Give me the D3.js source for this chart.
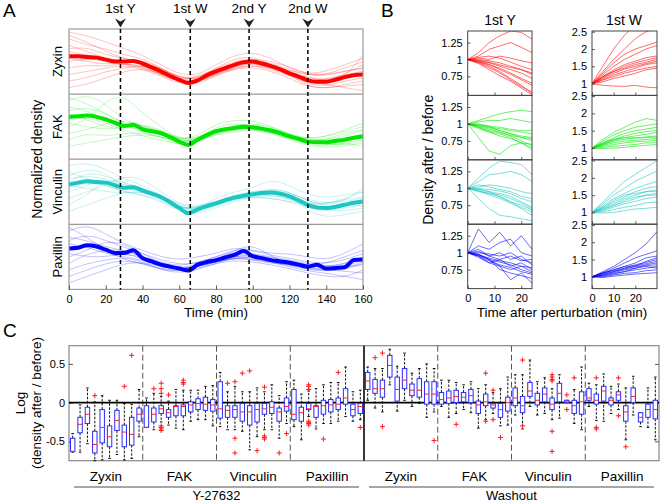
<!DOCTYPE html>
<html><head><meta charset="utf-8">
<script src="https://cdn.jsdelivr.net/npm/d3@7"></script>
<style>body{margin:0;background:#fff}svg{display:block}text{font-family:"Liberation Sans",Arial,Helvetica,sans-serif;fill:#000}</style>
</head><body><svg id="c" width="660" height="503"></svg>
<script>
// ---------------- DATA ----------------
const proteins = ["Zyxin","FAK","Vinculin","Paxillin"];
const colors = ["#ff0000","#00e600","#1cc6c2","#0000ff"];
const eventTimes = [28,66,98,130];
const eventLabels = ["1st Y","1st W","2nd Y","2nd W"];
const timeTicksA = [0,20,40,60,80,100,120,140,160];

// Panel A: mean traces (normalized, 0 = panel bottom, 1 = panel top)
const meanTime = [0,5,10,15,20,25,30,35,40,45,50,55,60,65,70,75,80,85,90,95,100,105,110,115,120,125,130,135,140,145,150,155,160];
const meanZyxin = [0.58,0.58,0.57,0.56,0.53,0.50,0.50,0.51,0.47,0.41,0.35,0.28,0.22,0.17,0.21,0.29,0.35,0.40,0.45,0.49,0.50,0.47,0.43,0.38,0.32,0.27,0.21,0.19,0.19,0.22,0.26,0.29,0.30];
const meanFAK = [0.65,0.66,0.67,0.65,0.61,0.56,0.51,0.53,0.46,0.43,0.40,0.34,0.27,0.22,0.30,0.37,0.43,0.46,0.48,0.50,0.49,0.47,0.44,0.40,0.35,0.31,0.27,0.26,0.26,0.28,0.30,0.33,0.35];
const meanVinculin = [0.61,0.64,0.66,0.65,0.64,0.60,0.56,0.57,0.52,0.47,0.42,0.34,0.25,0.17,0.23,0.28,0.32,0.37,0.41,0.44,0.46,0.48,0.49,0.47,0.43,0.37,0.30,0.26,0.25,0.27,0.30,0.33,0.35];
const meanPaxillin = [0.63,0.64,0.68,0.66,0.61,0.56,0.56,0.60,0.48,0.43,0.38,0.35,0.32,0.29,0.38,0.42,0.45,0.49,0.53,0.59,0.51,0.48,0.45,0.43,0.41,0.38,0.35,0.38,0.32,0.33,0.34,0.45,0.46];

// Panel A: individual cell traces, sampled every 10 min
const traceTime = [0,10,20,30,40,50,60,70,80,90,100,110,120,130,140,150,160];
const tracesZyxin = [
 [0.95,0.9,0.8,0.7,0.6,0.45,0.3,0.28,0.45,0.6,0.65,0.55,0.4,0.3,0.35,0.45,0.55],
 [0.85,0.75,0.7,0.6,0.55,0.4,0.25,0.25,0.4,0.5,0.55,0.5,0.42,0.3,0.3,0.4,0.5],
 [0.7,0.72,0.6,0.55,0.5,0.38,0.22,0.2,0.35,0.45,0.5,0.45,0.35,0.2,0.2,0.25,0.3],
 [0.5,0.55,0.5,0.45,0.45,0.3,0.2,0.18,0.3,0.42,0.48,0.4,0.3,0.15,0.12,0.2,0.25],
 [0.4,0.45,0.42,0.48,0.42,0.3,0.18,0.15,0.28,0.4,0.45,0.38,0.28,0.18,0.15,0.1,0.05],
 [0.3,0.35,0.4,0.45,0.38,0.28,0.15,0.18,0.32,0.42,0.5,0.42,0.3,0.12,0.08,0.15,0.2],
 [0.65,0.6,0.55,0.5,0.52,0.4,0.25,0.22,0.38,0.48,0.52,0.48,0.38,0.28,0.3,0.35,0.4],
 [0.2,0.25,0.35,0.4,0.45,0.35,0.2,0.2,0.32,0.4,0.45,0.4,0.32,0.25,0.22,0.3,0.35],
 [0.75,0.65,0.55,0.45,0.4,0.32,0.22,0.25,0.4,0.55,0.58,0.45,0.3,0.2,0.22,0.3,0.45],
 [0.55,0.5,0.45,0.5,0.48,0.4,0.25,0.22,0.35,0.45,0.52,0.45,0.35,0.25,0.2,0.25,0.6],
 [0.9,0.8,0.65,0.55,0.45,0.33,0.2,0.18,0.3,0.38,0.42,0.35,0.25,0.1,0.1,0.12,0.15],
 [0.1,0.15,0.25,0.35,0.4,0.3,0.18,0.2,0.36,0.46,0.5,0.44,0.36,0.3,0.28,0.35,0.4]
];
const tracesFAK = [
 [0.9,1.0,0.85,0.6,0.5,0.45,0.3,0.35,0.55,0.6,0.6,0.5,0.4,0.3,0.35,0.45,0.55],
 [0.5,0.6,0.9,1.0,0.7,0.5,0.3,0.32,0.5,0.55,0.52,0.48,0.38,0.3,0.28,0.32,0.38],
 [0.8,0.75,0.6,0.5,0.45,0.42,0.3,0.32,0.45,0.5,0.5,0.42,0.35,0.25,0.25,0.3,0.4],
 [0.3,0.4,0.35,0.4,0.4,0.35,0.2,0.25,0.4,0.45,0.48,0.45,0.35,0.3,0.3,0.35,0.45],
 [0.7,0.6,0.5,0.45,0.55,0.45,0.3,0.3,0.4,0.45,0.5,0.4,0.3,0.2,0.18,0.2,0.25],
 [0.6,0.65,0.55,0.45,0.35,0.3,0.22,0.28,0.42,0.5,0.45,0.4,0.32,0.22,0.2,0.25,0.3],
 [0.2,0.25,0.3,0.35,0.38,0.35,0.25,0.28,0.38,0.42,0.45,0.42,0.36,0.32,0.35,0.42,0.5],
 [0.75,0.8,0.7,0.55,0.45,0.38,0.25,0.3,0.45,0.52,0.55,0.5,0.38,0.28,0.22,0.22,0.28],
 [0.55,0.5,0.45,0.5,0.5,0.42,0.28,0.3,0.42,0.48,0.5,0.45,0.35,0.25,0.25,0.3,0.32],
 [0.95,0.85,0.7,0.55,0.4,0.35,0.25,0.3,0.45,0.48,0.46,0.42,0.32,0.28,0.3,0.4,0.45],
 [0.4,0.45,0.55,0.6,0.52,0.42,0.28,0.28,0.4,0.46,0.5,0.46,0.38,0.28,0.22,0.25,0.2]
];
const tracesVinculin = [
 [0.9,0.95,0.85,0.7,0.6,0.45,0.25,0.25,0.4,0.5,0.55,0.7,0.6,0.45,0.4,0.45,0.5],
 [0.4,0.5,0.6,0.75,0.7,0.5,0.3,0.28,0.35,0.45,0.5,0.55,0.5,0.35,0.3,0.4,0.5],
 [0.7,0.75,0.7,0.6,0.55,0.45,0.28,0.2,0.3,0.4,0.45,0.45,0.4,0.25,0.2,0.25,0.3],
 [0.2,0.3,0.4,0.5,0.5,0.4,0.22,0.2,0.3,0.4,0.45,0.5,0.45,0.3,0.22,0.2,0.25],
 [0.8,0.7,0.6,0.5,0.45,0.35,0.2,0.18,0.28,0.38,0.42,0.45,0.4,0.28,0.25,0.3,0.38],
 [0.5,0.6,0.7,0.55,0.5,0.42,0.25,0.22,0.32,0.4,0.48,0.52,0.45,0.2,0.1,0.15,0.2],
 [0.6,0.55,0.5,0.48,0.5,0.4,0.25,0.25,0.35,0.42,0.45,0.48,0.42,0.32,0.3,0.35,0.4],
 [0.3,0.45,0.7,0.65,0.55,0.45,0.3,0.25,0.32,0.4,0.42,0.4,0.35,0.3,0.32,0.38,0.42],
 [0.65,0.8,0.75,0.62,0.55,0.42,0.25,0.22,0.3,0.38,0.46,0.55,0.5,0.35,0.28,0.3,0.28],
 [0.55,0.65,0.6,0.5,0.45,0.38,0.2,0.15,0.25,0.35,0.42,0.4,0.35,0.25,0.2,0.28,0.35],
 [0.75,0.85,0.8,0.55,0.5,0.4,0.22,0.25,0.35,0.45,0.5,0.52,0.48,0.38,0.32,0.35,0.55]
];
const tracesPaxillin = [
 [0.9,1.0,0.85,0.7,0.6,0.5,0.45,0.5,0.55,0.65,0.6,0.55,0.55,0.5,0.45,0.55,0.7],
 [0.5,0.6,0.75,0.7,0.55,0.4,0.3,0.35,0.45,0.6,0.7,0.5,0.4,0.35,0.4,0.5,0.6],
 [0.7,0.65,0.55,0.5,0.45,0.35,0.3,0.35,0.42,0.5,0.48,0.42,0.35,0.28,0.25,0.2,0.15],
 [0.3,0.4,0.45,0.5,0.42,0.3,0.25,0.3,0.4,0.5,0.45,0.4,0.38,0.3,0.28,0.35,0.45],
 [0.8,0.75,0.65,0.6,0.5,0.42,0.35,0.42,0.5,0.58,0.55,0.5,0.45,0.4,0.35,0.38,0.5],
 [0.6,0.7,0.6,0.55,0.48,0.35,0.3,0.38,0.45,0.52,0.5,0.42,0.38,0.32,0.28,0.3,0.4],
 [0.2,0.3,0.4,0.45,0.4,0.32,0.28,0.32,0.4,0.45,0.42,0.38,0.32,0.25,0.2,0.18,0.3],
 [0.75,0.85,0.75,0.65,0.55,0.45,0.38,0.4,0.5,0.62,0.6,0.52,0.48,0.42,0.4,0.45,0.55],
 [0.55,0.5,0.5,0.55,0.5,0.4,0.32,0.38,0.48,0.55,0.52,0.45,0.42,0.35,0.3,0.32,0.42],
 [0.95,0.8,0.6,0.45,0.4,0.3,0.28,0.35,0.42,0.48,0.5,0.45,0.4,0.38,0.35,0.4,0.48],
 [0.4,0.55,0.6,0.62,0.5,0.38,0.3,0.36,0.44,0.5,0.55,0.48,0.44,0.38,0.32,0.34,0.38],
 [0.1,0.2,0.3,0.4,0.42,0.35,0.3,0.35,0.42,0.48,0.46,0.42,0.38,0.33,0.3,0.28,0.25]
];

// Panel B: density after / before for 1st Y (left) and 1st W (right)
const bTimeY = [0,4,8,12,16,20,24];
const bTimeW = [0,5,10,15,20,25,30];
const bTicksY = [0.75,1,1.25];
const bTicksW = [1,1.5,2,2.5];
const bTimeTicks = [0,10,20];
const bZyxinY = [
 [1,1.1,1.25,1.35,1.42,1.4,1.3],[1,1.05,1.15,1.2,1.25,1.18,1.1],[1,1.02,1.0,1.05,1.02,0.98,0.95],
 [1,0.98,0.95,0.9,0.85,0.8,0.72],[1,0.97,0.93,0.85,0.78,0.7,0.62],[1,0.96,0.9,0.82,0.72,0.62,0.5],
 [1,0.95,0.88,0.8,0.7,0.6,0.52],[1,0.99,0.96,0.92,0.88,0.85,0.8],[1,0.94,0.85,0.76,0.68,0.58,0.48],
 [1,1.0,0.98,0.95,0.9,0.85,0.78],[1,0.97,0.92,0.87,0.8,0.72,0.65],[1,1.03,1.05,1.02,0.96,0.9,0.85]
];
const bFAKY = [
 [1,1.05,1.1,1.15,1.18,1.2,1.18],[1,1.03,1.05,1.05,1.08,1.05,1.02],[1,0.98,0.95,0.93,0.9,0.88,0.85],
 [1,0.95,0.9,0.87,0.83,0.8,0.78],[1,0.8,0.6,0.55,0.68,0.72,0.7],[1,0.96,0.92,0.88,0.82,0.75,0.68],
 [1,0.97,0.94,0.9,0.86,0.82,0.8],[1,0.93,0.88,0.85,0.8,0.72,0.62],[1,0.99,0.97,0.95,0.92,0.9,0.9],
 [1,0.95,0.88,0.82,0.78,0.72,0.65],[1,1.0,0.96,0.9,0.85,0.8,0.75]
];
const bVinculinY = [
 [1,1.15,1.3,1.4,1.38,1.35,1.2],[1,1.1,1.2,1.22,1.25,1.2,1.1],[1,1.02,1.05,1.03,1.0,0.95,0.92],
 [1,0.85,0.7,0.6,0.58,0.55,0.52],[1,0.98,0.95,0.92,0.88,0.8,0.72],[1,0.95,0.92,0.88,0.8,0.72,0.65],
 [1,1.0,0.98,0.96,0.92,0.85,0.8],[1,0.97,0.9,0.85,0.78,0.7,0.6],[1,1.05,1.02,0.98,0.95,0.88,0.85],
 [1,0.96,0.93,0.9,0.85,0.78,0.7],[1,0.99,0.95,0.87,0.8,0.75,0.68]
];
const bPaxillinY = [
 [1,1.35,1.15,1.3,1.1,1.25,1.05],[1,1.1,1.05,1.15,1.2,1.0,0.95],[1,0.95,0.85,0.9,0.8,0.85,0.75],
 [1,0.98,0.9,0.8,0.6,0.7,0.55],[1,0.97,0.92,0.88,0.85,0.8,0.78],[1,1.02,0.95,0.9,0.95,0.88,0.9],
 [1,0.95,0.88,0.82,0.78,0.72,0.68],[1,0.93,0.85,0.8,0.75,0.8,0.72],[1,1.0,0.98,0.95,1.0,0.9,0.85],
 [1,0.96,0.9,0.86,0.82,0.75,0.7],[1,1.05,0.95,1.0,0.9,0.95,0.82],[1,0.97,0.9,0.75,0.7,0.66,0.62]
];
const bZyxinW = [
 [1,1.5,2.0,2.4,2.7,2.9,3.0],[1,1.35,1.7,2.0,2.3,2.5,2.6],[1,1.3,1.6,1.85,2.0,2.1,2.2],
 [1,1.2,1.4,1.55,1.65,1.75,1.8],[1,1.2,1.35,1.5,1.6,1.68,1.75],[1,1.15,1.3,1.42,1.5,1.58,1.65],
 [1,1.12,1.25,1.35,1.45,1.55,1.6],[1,1.1,1.2,1.3,1.38,1.45,1.5],[1,1.05,1.15,1.22,1.3,1.4,1.45],
 [1,0.95,0.93,0.92,0.95,0.9,0.88],[1,1.25,1.5,1.7,1.85,2.0,2.1],[1,1.18,1.35,1.45,1.55,1.62,1.7]
];
const bFAKW = [
 [1,1.25,1.45,1.6,1.75,1.85,1.8],[1,1.2,1.38,1.5,1.6,1.65,1.7],[1,1.15,1.3,1.42,1.5,1.55,1.6],
 [1,1.12,1.25,1.35,1.42,1.48,1.5],[1,1.1,1.2,1.25,1.3,1.32,1.35],[1,1.08,1.15,1.2,1.22,1.25,1.28],
 [1,1.05,1.1,1.15,1.18,1.2,1.22],[1,1.02,1.05,1.08,1.1,1.15,1.15],[1,0.98,1.0,1.02,1.05,1.08,1.1],
 [1,1.1,1.22,1.3,1.35,1.4,1.45],[1,1.15,1.25,1.3,1.28,1.3,1.32]
];
const bVinculinW = [
 [1,1.3,1.6,1.9,2.1,2.3,2.5],[1,1.25,1.5,1.7,1.9,2.05,2.2],[1,1.2,1.4,1.55,1.7,1.8,1.9],
 [1,1.15,1.3,1.45,1.6,1.7,1.75],[1,1.12,1.25,1.4,1.5,1.6,1.65],[1,1.1,1.2,1.3,1.4,1.5,1.55],
 [1,1.05,1.15,1.25,1.32,1.4,1.45],[1,1.02,1.08,1.15,1.2,1.28,1.3],[1,0.98,1.0,1.05,1.1,1.12,1.15],
 [1,1.15,1.35,1.5,1.55,1.6,1.6],[1,1.08,1.2,1.35,1.45,1.5,1.5]
];
const bPaxillinW = [
 [1,1.15,1.3,1.5,1.7,1.95,2.3],[1,1.12,1.25,1.4,1.55,1.65,1.75],[1,1.1,1.2,1.3,1.4,1.55,1.6],
 [1,1.08,1.15,1.25,1.35,1.42,1.5],[1,1.05,1.12,1.2,1.25,1.35,1.4],[1,1.04,1.1,1.15,1.2,1.25,1.3],
 [1,1.0,1.05,1.1,1.12,1.18,1.2],[1,0.98,1.02,1.05,1.08,1.1,1.12],[1,1.1,1.2,1.3,1.32,1.38,1.45],
 [1,1.06,1.15,1.22,1.3,1.32,1.35],[1,1.02,1.08,1.15,1.25,1.3,1.25],[1,1.12,1.18,1.25,1.3,1.45,1.55]
];

// Panel C: box plots, log(density after / before); 80 boxes, 10 cells per group
const treatments = ["Y-27632","Washout"];
const cTicks = [-0.5,0,0.5];
const boxQ3 = [-0.46,-0.19,-0.06,-0.37,-0.09,-0.30,-0.10,-0.29,-0.19,-0.07, -0.04,-0.07,-0.04,-0.09,-0.04,-0.03,0.01,0.05,0.07,0.04,
 0.27,-0.04,-0.04,-0.01,-0.04,-0.01,-0.01,0.01,-0.07,0.06, 0.17,-0.06,-0.01,-0.04,0.03,0.04,0.06,0.18,-0.02,-0.01,
 0.39,0.30,0.29,0.61,0.33,0.44,0.24,0.31,0.27,0.27, 0.13,0.15,0.16,0.13,0.17,0.02,0.11,-0.01,-0.01,0.07,
 0.19,0.08,0.26,0.12,0.19,0.06,0.25,0.03,0.03,0.14, 0.18,0.11,0.21,0.06,0.14,-0.04,0.19,-0.13,-0.02,0.03];
const boxQ1 = [-0.63,-0.39,-0.27,-0.65,-0.52,-0.57,-0.36,-0.57,-0.55,-0.24, -0.32,-0.25,-0.14,-0.19,-0.17,-0.17,-0.12,-0.09,-0.10,-0.11,
 -0.20,-0.19,-0.19,-0.24,-0.29,-0.25,-0.15,-0.14,-0.24,-0.11, -0.22,-0.24,-0.09,-0.19,-0.15,-0.12,-0.09,-0.02,-0.17,-0.14,
 0.17,0.12,0.07,0.33,0.02,0.18,0.09,0.07,-0.02,-0.02, -0.02,-0.01,0.00,0.01,0.00,-0.14,-0.04,-0.07,-0.19,-0.11,
 -0.04,-0.13,0.08,-0.03,0.01,-0.09,0.01,0.00,-0.14,-0.15, 0.03,-0.02,0.02,-0.03,0.03,-0.24,0.00,-0.25,-0.19,-0.21];
const boxMed = [-0.63,-0.28,-0.15,-0.54,-0.32,-0.44,-0.23,-0.38,-0.41,-0.15, -0.32,-0.15,-0.08,-0.13,-0.05,-0.05,-0.03,-0.01,-0.02,-0.03,
 -0.08,-0.10,-0.09,-0.12,-0.12,-0.09,-0.08,-0.06,-0.12,-0.05, -0.15,-0.13,-0.08,-0.05,-0.04,-0.03,-0.02,0.06,-0.09,-0.05,
 0.28,0.18,0.18,0.48,0.17,0.29,0.16,0.16,0.11,0.11, 0.04,0.06,0.08,0.07,0.09,-0.03,0.01,-0.03,-0.09,0.00,
 0.06,-0.04,0.15,0.03,0.11,-0.02,0.12,0.01,-0.04,0.01, 0.06,0.03,0.15,0.03,0.10,-0.12,0.08,-0.19,-0.09,-0.09];
const boxHi = [-0.40,-0.03,0.19,0.01,0.09,0.03,0.03,-0.01,-0.02,0.17, 0.06,0.12,0.08,0.02,0.17,0.16,0.16,0.16,0.21,0.22,
 0.39,0.14,0.21,0.14,0.14,0.19,0.14,0.23,0.09,0.27, 0.29,0.11,0.15,0.18,0.23,0.26,0.26,0.46,0.14,0.16,
 0.46,0.44,0.44,0.69,0.47,0.64,0.38,0.44,0.50,0.44, 0.29,0.29,0.26,0.23,0.27,0.18,0.23,0.13,0.18,0.33,
 0.36,0.36,0.55,0.27,0.32,0.18,0.36,0.03,0.17,0.46, 0.25,0.23,0.37,0.21,0.24,0.19,0.34,-0.13,0.19,0.33];
const boxLo = [-0.64,-0.64,-0.53,-0.75,-0.74,-0.72,-0.67,-0.74,-0.72,-0.44, -0.32,-0.35,-0.25,-0.29,-0.33,-0.35,-0.24,-0.22,-0.22,-0.30,
 -0.31,-0.35,-0.35,-0.37,-0.61,-0.44,-0.35,-0.35,-0.46,-0.27, -0.31,-0.48,-0.18,-0.34,-0.27,-0.27,-0.24,-0.18,-0.24,-0.22,
 0.03,-0.07,-0.12,0.23,-0.11,0.03,-0.05,-0.01,-0.19,-0.12, -0.05,-0.19,-0.14,-0.09,-0.13,-0.33,-0.22,-0.14,-0.30,-0.29,
 -0.16,-0.34,-0.05,-0.16,-0.14,-0.22,-0.20,0.00,-0.27,-0.35, -0.05,-0.23,-0.24,-0.14,-0.09,-0.48,-0.16,-0.31,-0.32,-0.48];
const outlierBox = [3,7,8,11,12,12,12,12,12,12,12,13,15,15,15,21,22,22,22,23,24,25,26,26,26,26,28,29,
 32,32,32,32,32,32,32,34,36,39,41,42,42,49,52,56,56,57,57,58,61,61,65,65,65,65,65,65,67,67,68,71,71,71,74,74,75];
const outlierVal = [0.09,0.21,0.61,0.18,0.25,0.18,0.12,-0.30,-0.32,-0.34,-0.36,0.10,0.29,0.26,0.24,0.25,0.27,-0.46,-0.65,0.38,0.41,-0.62,0.20,-0.43,-0.45,-0.47,-0.65,-0.40,
 0.23,0.21,0.17,-0.24,-0.26,-0.27,-0.29,-0.47,0.39,-0.32,0.58,0.64,-0.31,-0.49,-0.28,0.38,-0.24,0.16,-0.22,-0.45,0.55,-0.30,0.36,0.33,0.30,0.28,-0.37,-0.63,0.10,-0.09,0.32,0.32,-0.32,-0.34,0.32,-0.17,-0.57];

// ---------------- DRAW ----------------
const svg = d3.select("#c");
const FONT = "Liberation Sans, Arial, Helvetica, sans-serif";
function txt(g, x, y, s, size, anchor, rot) {
  const t = g.append("text").attr("x", x).attr("y", y).attr("font-size", size)
    .attr("text-anchor", anchor || "middle").text(s);
  if (rot) t.attr("transform", `rotate(${rot},${x},${y})`);
  return t;
}
function styleAxis(g, showText) {
  g.select(".domain").remove();
  g.selectAll(".tick line").attr("stroke", "#333").attr("stroke-width", 0.8);
  g.selectAll(".tick text").attr("font-size", 11).attr("font-family", FONT).attr("fill", "#111");
  if (!showText) g.selectAll(".tick text").remove();
}

// ===== Panel A =====
const gA = svg.append("g");
const Ax = d3.scaleLinear().domain([0,160]).range([69,363]);
const aTop = 29, aH = 65.1;
const meansA = [meanZyxin, meanFAK, meanVinculin, meanPaxillin];
const tracesA = [tracesZyxin, tracesFAK, tracesVinculin, tracesPaxillin];
const defs = svg.append("defs");
proteins.forEach((p, i) => {
  const top = aTop + i * aH;
  const y = d3.scaleLinear().domain([0,1]).range([top + aH, top]);
  defs.append("clipPath").attr("id", "clipA" + i).append("rect")
    .attr("x", Ax(0)).attr("y", top).attr("width", Ax(160) - Ax(0)).attr("height", aH);
  const g = gA.append("g").attr("clip-path", `url(#clipA${i})`);
  const thin = d3.line().x((d, k) => Ax(traceTime[k])).y(d => y(d)).curve(d3.curveBasis);
  g.selectAll("path.tr").data(tracesA[i]).join("path").attr("class", "tr")
    .attr("d", thin).attr("fill", "none").attr("stroke", colors[i])
    .attr("stroke-opacity", 0.3).attr("stroke-width", 0.8);
  const thick = d3.line().x((d, k) => Ax(meanTime[k])).y(d => y(d)).curve(d3.curveMonotoneX);
  g.append("path").attr("d", thick(meansA[i])).attr("fill", "none")
    .attr("stroke", colors[i]).attr("stroke-width", 4).attr("stroke-linejoin", "round");
  txt(gA, 62, top + aH / 2, p, 13, "middle", -90);
  if (i > 0) gA.append("line").attr("x1", Ax(0)).attr("x2", Ax(160)).attr("y1", top).attr("y2", top)
    .attr("stroke", "#999").attr("stroke-width", 1.2);
});
gA.append("rect").attr("x", Ax(0)).attr("y", aTop).attr("width", Ax(160) - Ax(0)).attr("height", aH * 4)
  .attr("fill", "none").attr("stroke", "#999").attr("stroke-width", 1.2);
// event lines and markers
eventTimes.forEach((t, k) => {
  gA.append("line").attr("x1", Ax(t)).attr("x2", Ax(t)).attr("y1", aTop).attr("y2", aTop + 4 * aH)
    .attr("stroke", "#000").attr("stroke-width", 1.5).attr("stroke-dasharray", "4,3");
  gA.append("path").attr("d", "M-5.5,-4.5 L0,4.5 L5.5,-4.5 L0,-1.5 Z")
    .attr("transform", `translate(${Ax(t)},23)`).attr("fill", "#222");
  txt(gA, Ax(t), 13, eventLabels[k], 13.5);
});
const axA = gA.append("g").attr("transform", `translate(0,${aTop + 4 * aH})`)
  .call(d3.axisBottom(Ax).tickValues(timeTicksA).tickSize(-4).tickPadding(6));
styleAxis(axA, true);
txt(gA, 216, 317, "Time (min)", 13.5);
txt(gA, 42, aTop + 2 * aH, "Normalized density", 14, "middle", -90);
txt(gA, 3, 17, "A", 19, "start");

// ===== Panel B =====
const gB = svg.append("g");
const bTop = 31, bH = 64.4;
const bxY = d3.scaleLinear().domain([0,24]).range([467.7,532]);
const bxW = d3.scaleLinear().domain([0,30]).range([592,657]);
const byY = d3.scaleLinear().domain([0.47,1.42]);
const byW = d3.scaleLinear().domain([0.66,2.52]);
const bDataY = [bZyxinY, bFAKY, bVinculinY, bPaxillinY];
const bDataW = [bZyxinW, bFAKW, bVinculinW, bPaxillinW];
function bPanel(col, i) {
  const x = col === 0 ? bxY : bxW;
  const times = col === 0 ? bTimeY : bTimeW;
  const data = col === 0 ? bDataY[i] : bDataW[i];
  const top = bTop + i * bH;
  const y = (col === 0 ? byY : byW).copy().range([top + bH, top]);
  const [x0, x1] = x.range();
  defs.append("clipPath").attr("id", `clipB${col}${i}`).append("rect")
    .attr("x", x0).attr("y", top).attr("width", x1 - x0).attr("height", bH);
  const g = gB.append("g").attr("clip-path", `url(#clipB${col}${i})`);
  const ln = d3.line().x((d, k) => x(times[k])).y(d => y(d));
  g.selectAll("path").data(data).join("path").attr("d", ln).attr("fill", "none")
    .attr("stroke", colors[i]).attr("stroke-opacity", 0.65).attr("stroke-width", 0.9);
  gB.append("rect").attr("x", x0).attr("y", top).attr("width", x1 - x0).attr("height", bH)
    .attr("fill", "none").attr("stroke", "#444").attr("stroke-width", 1);
  const ay = gB.append("g").attr("transform", `translate(${x0},0)`)
    .call(d3.axisLeft(y).tickValues(col === 0 ? bTicksY : bTicksW).tickSize(-3).tickPadding(5)
      .tickFormat(d3.format("")));
  styleAxis(ay, true);
  const ax = gB.append("g").attr("transform", `translate(0,${top + bH})`)
    .call(d3.axisBottom(x).tickValues(bTimeTicks).tickSize(-3).tickPadding(6));
  styleAxis(ax, i === 3);
}
for (let i = 0; i < 4; i++) { bPanel(0, i); bPanel(1, i); }
txt(gB, 500, 25, "1st Y", 14);
txt(gB, 624, 25, "1st W", 14);
txt(gB, 433, bTop + 2 * bH, "Density after / before", 14, "middle", -90);
txt(gB, 562, 317, "Time after perturbation (min)", 13.5);
txt(gB, 381, 17, "B", 19, "start");

// ===== Panel C =====
const gC = svg.append("g");
const cL = 69, cR = 659, cT = 345.7, cB = 460.7;
const boxIdx = d3.range(boxMed.length);
const cx = d3.scaleBand().domain(boxIdx).range([cL, cR]).paddingInner(0.4).paddingOuter(0.2);
const cy = d3.scaleLinear().domain([-0.75, 0.735]).range([cB, cT]);
const groupW = (cR - cL) / 8;
gC.append("rect").attr("x", cL).attr("y", cT).attr("width", cR - cL).attr("height", cB - cT)
  .attr("fill", "none").attr("stroke", "#888").attr("stroke-width", 1.2);
// group separators
for (let k = 1; k < 8; k++) {
  const xx = cL + k * groupW;
  gC.append("line").attr("x1", xx).attr("x2", xx).attr("y1", cT).attr("y2", cB)
    .attr("stroke", k === 4 ? "#222" : "#555").attr("stroke-width", k === 4 ? 1.8 : 1)
    .attr("stroke-dasharray", k === 4 ? null : "6,3");
}
const ayC = gC.append("g").attr("transform", `translate(${cL},0)`)
  .call(d3.axisLeft(cy).tickValues(cTicks).tickSize(-4).tickPadding(4).tickFormat(d3.format("")));
styleAxis(ayC, true);
ayC.selectAll(".tick text").text(d => d === 0 ? "0" : d3.format(".1f")(d).replace("−", "-"));
const ayC2 = gC.append("g").attr("transform", `translate(${cR},0)`)
  .call(d3.axisRight(cy).tickValues(cTicks).tickSize(-4));
styleAxis(ayC2, false);
// zero line
gC.append("line").attr("x1", cL).attr("x2", cR).attr("y1", cy(0)).attr("y2", cy(0))
  .attr("stroke", "#000").attr("stroke-width", 1.8);
const bw = cx.bandwidth();
const boxes = gC.selectAll("g.box").data(boxIdx).join("g").attr("class", "box");
// whiskers
boxes.append("line").attr("x1", i => cx(i) + bw / 2).attr("x2", i => cx(i) + bw / 2)
  .attr("y1", i => cy(boxQ3[i])).attr("y2", i => cy(boxHi[i]))
  .attr("stroke", "#111").attr("stroke-width", 1).attr("stroke-dasharray", "2.5,1.5");
boxes.append("line").attr("x1", i => cx(i) + bw / 2).attr("x2", i => cx(i) + bw / 2)
  .attr("y1", i => cy(boxQ1[i])).attr("y2", i => cy(boxLo[i]))
  .attr("stroke", "#111").attr("stroke-width", 1).attr("stroke-dasharray", "2.5,1.5");
boxes.append("line").attr("x1", i => cx(i) + bw / 2 - 1.3).attr("x2", i => cx(i) + bw / 2 + 1.3)
  .attr("y1", i => cy(boxHi[i])).attr("y2", i => cy(boxHi[i])).attr("stroke", "#111").attr("stroke-width", 1);
boxes.append("line").attr("x1", i => cx(i) + bw / 2 - 1.3).attr("x2", i => cx(i) + bw / 2 + 1.3)
  .attr("y1", i => cy(boxLo[i])).attr("y2", i => cy(boxLo[i])).attr("stroke", "#111").attr("stroke-width", 1);
boxes.append("rect").attr("x", i => cx(i)).attr("width", bw)
  .attr("y", i => cy(boxQ3[i])).attr("height", i => Math.max(0.5, cy(boxQ1[i]) - cy(boxQ3[i])))
  .attr("fill", "#fff").attr("stroke", "#2a2aff").attr("stroke-width", 1);
boxes.append("line").attr("x1", i => cx(i)).attr("x2", i => cx(i) + bw)
  .attr("y1", i => cy(boxMed[i])).attr("y2", i => cy(boxMed[i])).attr("stroke", "#ff2020").attr("stroke-width", 1);
// outliers
gC.selectAll("path.out").data(outlierBox.map((b, k) => [b, outlierVal[k]])).join("path")
  .attr("class", "out")
  .attr("d", d => { const x = cx(d[0]) + bw / 2, y = cy(d[1]); return `M${x-2.5},${y}H${x+2.5}M${x},${y-2.5}V${y+2.5}`; })
  .attr("stroke", "#ff1a1a").attr("stroke-width", 1);
// group and treatment labels
for (let k = 0; k < 8; k++) {
  txt(gC, cL + (k + 0.5) * groupW, 481, proteins[k % 4], 13.5);
}
treatments.forEach((t, k) => {
  const x0 = cL + k * 4 * groupW + 5, x1 = cL + (k + 1) * 4 * groupW - 5;
  gC.append("line").attr("x1", x0).attr("x2", x1).attr("y1", 487).attr("y2", 487)
    .attr("stroke", "#888").attr("stroke-width", 1.5);
  txt(gC, (x0 + x1) / 2, 499.5, t, 13);
});
txt(gC, 25, 403, "Log", 13.5, "middle", -90);
txt(gC, 41, 403, "(density after / before)", 13.5, "middle", -90);
txt(gC, 3, 337, "C", 19, "start");
</script></body></html>
